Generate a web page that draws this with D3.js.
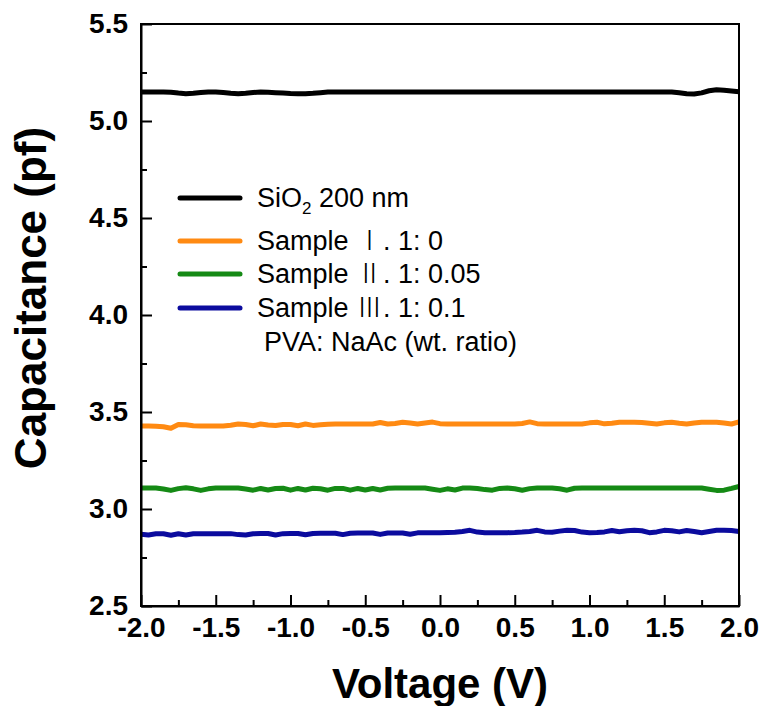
<!DOCTYPE html>
<html>
<head>
<meta charset="utf-8">
<script src="https://cdn.jsdelivr.net/npm/d3@7"></script>
<style>
  html, body { margin: 0; padding: 0; background: #fff; }
  svg { display: block; }
</style>
</head>
<body>
<svg id="chart" width="764" height="706"></svg>
<script>
// Gate voltage sweep (V)
const voltage = [
  -2.00, -1.95, -1.90, -1.85, -1.80, -1.75, -1.70, -1.65, -1.60, -1.55,
  -1.50, -1.45, -1.40, -1.35, -1.30, -1.25, -1.20, -1.15, -1.10, -1.05,
  -1.00, -0.95, -0.90, -0.85, -0.80, -0.75, -0.70, -0.65, -0.60, -0.55,
  -0.50, -0.45, -0.40, -0.35, -0.30, -0.25, -0.20, -0.15, -0.10, -0.05,
   0.00,  0.05,  0.10,  0.15,  0.20,  0.25,  0.30,  0.35,  0.40,  0.45,
   0.50,  0.55,  0.60,  0.65,  0.70,  0.75,  0.80,  0.85,  0.90,  0.95,
   1.00,  1.05,  1.10,  1.15,  1.20,  1.25,  1.30,  1.35,  1.40,  1.45,
   1.50,  1.55,  1.60,  1.65,  1.70,  1.75,  1.80,  1.85,  1.90,  1.95,
   2.00
];

// Capacitance (pF) for each dielectric
const capSiO2 = [
  5.150, 5.150, 5.150, 5.150, 5.148, 5.144, 5.141, 5.143, 5.147, 5.150,
  5.150, 5.147, 5.143, 5.141, 5.143, 5.147, 5.149, 5.148, 5.146, 5.144,
  5.142, 5.141, 5.141, 5.143, 5.146, 5.149, 5.150, 5.150, 5.150, 5.150,
  5.150, 5.150, 5.150, 5.150, 5.150, 5.150, 5.150, 5.150, 5.150, 5.150,
  5.150, 5.150, 5.150, 5.150, 5.150, 5.150, 5.150, 5.150, 5.150, 5.150,
  5.150, 5.150, 5.150, 5.150, 5.150, 5.150, 5.150, 5.150, 5.150, 5.150,
  5.150, 5.150, 5.150, 5.150, 5.150, 5.150, 5.150, 5.150, 5.150, 5.150,
  5.150, 5.150, 5.146, 5.141, 5.139, 5.145, 5.156, 5.161, 5.159, 5.155,
  5.151
];
const capSample1 = [
  3.428, 3.428, 3.427, 3.424, 3.416, 3.436, 3.434, 3.429, 3.428, 3.428,
  3.428, 3.428, 3.432, 3.438, 3.436, 3.429, 3.438, 3.433, 3.430, 3.436,
  3.436, 3.429, 3.438, 3.431, 3.434, 3.437, 3.438, 3.438, 3.438, 3.438,
  3.438, 3.438, 3.446, 3.438, 3.441, 3.447, 3.443, 3.438, 3.443, 3.448,
  3.440, 3.438, 3.438, 3.438, 3.438, 3.438, 3.438, 3.438, 3.438, 3.438,
  3.438, 3.441, 3.449, 3.440, 3.438, 3.438, 3.438, 3.438, 3.438, 3.438,
  3.444, 3.447, 3.439, 3.442, 3.447, 3.447, 3.447, 3.446, 3.442, 3.438,
  3.444, 3.447, 3.442, 3.438, 3.443, 3.447, 3.447, 3.447, 3.443, 3.438,
  3.449
];
const capSample2 = [
  3.108, 3.108, 3.108, 3.103, 3.096, 3.105, 3.109, 3.104, 3.096, 3.104,
  3.108, 3.108, 3.108, 3.108, 3.103, 3.097, 3.106, 3.098, 3.106, 3.107,
  3.097, 3.106, 3.098, 3.107, 3.104, 3.097, 3.106, 3.106, 3.097, 3.106,
  3.098, 3.106, 3.098, 3.107, 3.108, 3.108, 3.108, 3.108, 3.108, 3.102,
  3.096, 3.104, 3.098, 3.108, 3.108, 3.106, 3.100, 3.097, 3.106, 3.108,
  3.104, 3.097, 3.105, 3.108, 3.108, 3.108, 3.104, 3.097, 3.107, 3.108,
  3.108, 3.108, 3.108, 3.108, 3.108, 3.108, 3.108, 3.108, 3.108, 3.108,
  3.108, 3.108, 3.108, 3.108, 3.108, 3.108, 3.102, 3.096, 3.097, 3.106,
  3.116
];
const capSample3 = [
  2.870, 2.866, 2.872, 2.872, 2.865, 2.872, 2.866, 2.872, 2.873, 2.873,
  2.873, 2.873, 2.873, 2.868, 2.866, 2.872, 2.874, 2.874, 2.866, 2.873,
  2.874, 2.874, 2.867, 2.874, 2.875, 2.875, 2.875, 2.868, 2.875, 2.876,
  2.876, 2.876, 2.869, 2.876, 2.876, 2.876, 2.870, 2.877, 2.877, 2.877,
  2.877, 2.879, 2.880, 2.884, 2.890, 2.881, 2.878, 2.878, 2.878, 2.878,
  2.879, 2.881, 2.884, 2.890, 2.882, 2.880, 2.886, 2.890, 2.889, 2.881,
  2.878, 2.879, 2.882, 2.889, 2.883, 2.888, 2.890, 2.888, 2.878, 2.882,
  2.890, 2.888, 2.882, 2.889, 2.884, 2.878, 2.884, 2.890, 2.890, 2.889,
  2.884
];

const seriesNames = ["SiO2 200 nm", "Sample Ⅰ. 1: 0", "Sample Ⅱ. 1: 0.05", "Sample Ⅲ. 1: 0.1"];
const seriesColors = ["#000000", "#ff8a12", "#158a15", "#0b0b9e"];
const xTicks = [-2.0, -1.5, -1.0, -0.5, 0.0, 0.5, 1.0, 1.5, 2.0];
const yTicks = [2.5, 3.0, 3.5, 4.0, 4.5, 5.0, 5.5];
const legendNote = "PVA: NaAc (wt. ratio)";

const svg = d3.select("#chart");
const margin = { left: 141, top: 24, right: 25, bottom: 100 };
const W = 764, H = 706;
const x = d3.scaleLinear().domain([-2, 2]).range([margin.left, W - margin.right]);
const y = d3.scaleLinear().domain([2.5, 5.5]).range([H - margin.bottom, margin.top]);

const boldFont = "'Liberation Sans', Arial, sans-serif";
// one decimal, plain hyphen for negatives
const fmt = d => d.toFixed(1);

// Data curves
const allSeries = [capSiO2, capSample1, capSample2, capSample3];
const line = d3.line().x(d => x(d[0])).y(d => y(d[1]));
allSeries.forEach((vals, i) => {
  svg.append("path")
    .datum(voltage.map((v, j) => [v, vals[j]]))
    .attr("fill", "none")
    .attr("stroke", seriesColors[i])
    .attr("stroke-width", 5)
    .attr("stroke-linejoin", "round")
    .attr("d", line);
});

// Frame
svg.append("rect")
  .attr("x", x(-2)).attr("y", y(5.5))
  .attr("width", x(2) - x(-2)).attr("height", y(2.5) - y(5.5))
  .attr("fill", "none").attr("stroke", "#000").attr("stroke-width", 2);

// Axes with inward ticks
function styleAxis(g) {
  g.select(".domain").attr("stroke-width", 2);
  g.selectAll(".tick line").attr("stroke-width", 2);
  g.selectAll(".tick text")
    .attr("font-family", boldFont)
    .attr("font-weight", "bold")
    .attr("font-size", 28)
    .attr("fill", "#000");
}
const yMinor = [2.75, 3.25, 3.75, 4.25, 4.75, 5.25];
const xMinor = [-1.75, -1.25, -0.75, -0.25, 0.25, 0.75, 1.25, 1.75];

svg.append("g")
  .attr("transform", `translate(${x(-2)},0)`)
  .call(d3.axisLeft(y).tickValues(yMinor).tickSize(-6).tickFormat(""))
  .call(g => { g.select(".domain").remove(); g.selectAll(".tick line").attr("stroke-width", 2); });
svg.append("g")
  .attr("transform", `translate(0,${y(2.5)})`)
  .call(d3.axisBottom(x).tickValues(xMinor).tickSize(-6).tickFormat(""))
  .call(g => { g.select(".domain").remove(); g.selectAll(".tick line").attr("stroke-width", 2); });

svg.append("g")
  .attr("transform", `translate(${x(-2)},0)`)
  .call(d3.axisLeft(y).tickValues(yTicks).tickSize(-11).tickSizeOuter(0).tickPadding(13).tickFormat(fmt))
  .call(styleAxis);
svg.append("g")
  .attr("transform", `translate(0,${y(2.5)})`)
  .call(d3.axisBottom(x).tickValues(xTicks).tickSize(-11).tickSizeOuter(0).tickPadding(11).tickFormat(fmt))
  .call(styleAxis);

// Axis titles
svg.append("text")
  .attr("x", (x(-2) + x(2)) / 2).attr("y", 698)
  .attr("text-anchor", "middle")
  .attr("font-family", boldFont).attr("font-weight", "bold").attr("font-size", 42)
  .text("Voltage (V)");
svg.append("text")
  .attr("transform", "translate(46,298) rotate(-90)")
  .attr("text-anchor", "middle")
  .attr("font-family", boldFont).attr("font-weight", "bold").attr("font-size", 44)
  .text("Capacitance (pf)");

// Legend
const legend = svg.append("g").attr("font-family", "'Liberation Sans', Arial, sans-serif").attr("font-size", 27);
const legendRows = [198, 241, 274, 308];
const textBase = [207, 250, 283, 317];
seriesNames.forEach((name, i) => {
  legend.append("line")
    .attr("x1", 180).attr("x2", 240)
    .attr("y1", legendRows[i]).attr("y2", legendRows[i])
    .attr("stroke", seriesColors[i]).attr("stroke-width", 5)
    .attr("stroke-linecap", "round");
  const t = legend.append("text").attr("x", 257).attr("y", textBase[i]);
  if (i === 0) {
    t.append("tspan").text("SiO");
    t.append("tspan").attr("font-size", 17).attr("dy", 7).text("2");
    t.append("tspan").attr("dy", -7).text(" 200 nm");
  } else {
    const m = name.match(/^(Sample )(\S)(.*)$/);
    t.append("tspan").text(m[1]);
    t.append("tspan").attr("font-family", "'Noto Sans CJK SC'").attr("font-weight", 300).text(m[2]);
    t.append("tspan").text(m[3]);
  }
});
legend.append("text").attr("x", 264).attr("y", 351).text(legendNote);
</script>
</body>
</html>
